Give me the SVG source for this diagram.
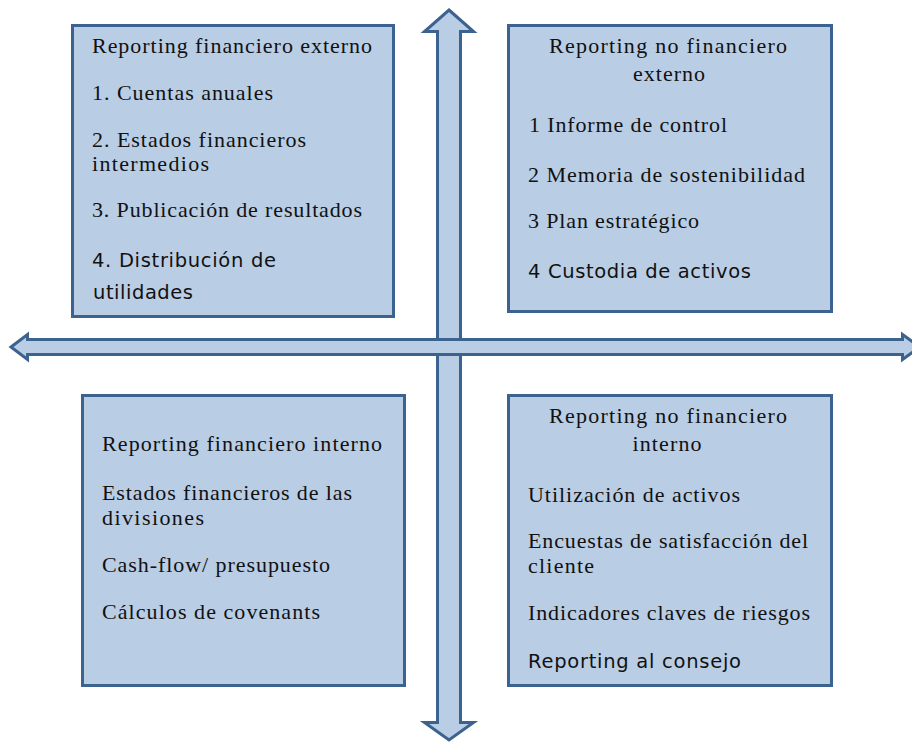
<svg xmlns="http://www.w3.org/2000/svg" width="912" height="742" viewBox="0 0 912 742">
<style>
.box{fill:#b9cde5;stroke:#3c6290;stroke-width:3}
.arrow{fill:#b9cde5;stroke:#3c6290;stroke-width:3;stroke-linejoin:miter}
.s{font-family:"Liberation Serif","Times New Roman",serif;font-size:22px;fill:#111}
.ss{font-family:"DejaVu Sans",Verdana,sans-serif;font-size:19.5px;fill:#111}
.c{text-anchor:middle}
</style>
<rect width="912" height="742" fill="#ffffff"/>
<g id="axes">
<polygon class="arrow" points="449,10 473.5,31.5 460.5,31.5 460.5,722.5 473.5,722.5 449,740 424.5,722.5 437.5,722.5 437.5,31.5 424.5,31.5"/>
<polygon class="arrow" points="11,347 27.5,334.5 27.5,339.5 902.5,339.5 902.5,334.5 920,347 902.5,359.5 902.5,354.5 27.5,354.5 27.5,359.5"/>
</g>
<g id="node-financiero-externo">
<rect class="box" x="72.5" y="25.5" width="321" height="291"/>
<text class="s" x="92" y="53" textLength="280" lengthAdjust="spacing">Reporting financiero externo</text>
<text class="s" x="92" y="100" textLength="181" lengthAdjust="spacing">1. Cuentas anuales</text>
<text class="s" x="92" y="147" textLength="214" lengthAdjust="spacing">2. Estados financieros</text>
<text class="s" x="92" y="171" textLength="117" lengthAdjust="spacing">intermedios</text>
<text class="s" x="92" y="217" textLength="270" lengthAdjust="spacing">3. Publicación de resultados</text>
<text class="ss" x="92" y="267" textLength="184" lengthAdjust="spacing">4. Distribución de</text>
<text class="ss" x="93" y="299" textLength="100" lengthAdjust="spacing">utilidades</text>
</g>
<g id="node-no-financiero-externo">
<rect class="box" x="508.5" y="25.5" width="323" height="286"/>
<text class="s c" x="668" y="53" textLength="238" lengthAdjust="spacing">Reporting no financiero</text>
<text class="s c" x="669" y="81" textLength="72" lengthAdjust="spacing">externo</text>
<text class="s" x="529" y="132" textLength="198" lengthAdjust="spacing">1 Informe de control</text>
<text class="s" x="528" y="182" textLength="277" lengthAdjust="spacing">2 Memoria de sostenibilidad</text>
<text class="s" x="528" y="228" textLength="171" lengthAdjust="spacing">3 Plan estratégico</text>
<text class="ss" x="528" y="278" textLength="223" lengthAdjust="spacing">4 Custodia de activos</text>
</g>
<g id="node-financiero-interno">
<rect class="box" x="82.5" y="395.5" width="322" height="290"/>
<text class="s" x="102" y="451" textLength="280" lengthAdjust="spacing">Reporting financiero interno</text>
<text class="s" x="102" y="500" textLength="250" lengthAdjust="spacing">Estados financieros de las</text>
<text class="s" x="102" y="525" textLength="102" lengthAdjust="spacing">divisiones</text>
<text class="s" x="102" y="572" textLength="228" lengthAdjust="spacing">Cash-flow/ presupuesto</text>
<text class="s" x="102" y="619" textLength="218" lengthAdjust="spacing">Cálculos de covenants</text>
</g>
<g id="node-no-financiero-interno">
<rect class="box" x="508.5" y="395.5" width="323" height="290"/>
<text class="s c" x="668" y="423" textLength="238" lengthAdjust="spacing">Reporting no financiero</text>
<text class="s c" x="667" y="451" textLength="69" lengthAdjust="spacing">interno</text>
<text class="s" x="528" y="502" textLength="212" lengthAdjust="spacing">Utilización de activos</text>
<text class="s" x="528" y="548" textLength="280" lengthAdjust="spacing">Encuestas de satisfacción del</text>
<text class="s" x="528" y="573" textLength="66" lengthAdjust="spacing">cliente</text>
<text class="s" x="528" y="620" textLength="282" lengthAdjust="spacing">Indicadores claves de riesgos</text>
<text class="ss" x="528" y="668" textLength="213" lengthAdjust="spacing">Reporting al consejo</text>
</g>
</svg>
